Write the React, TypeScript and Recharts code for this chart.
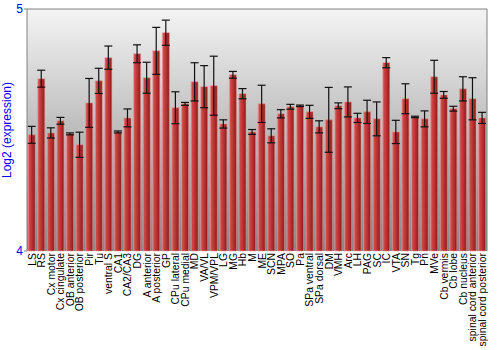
import React from 'react';
import {
  BarChart,
  Bar,
  XAxis,
  YAxis,
  ErrorBar,
  CartesianGrid,
  ReferenceLine,
} from 'recharts';

const regions = [
  'LS', 'RS', 'Cx motor', 'Cx cingulate', 'OB anterior', 'OB posterior', 'Pir', 'Tu',
  'ventral S', 'CA1', 'CA2/CA3', 'DG', 'A anterior', 'A posterior', 'GP', 'CPu lateral',
  'CPu medial', 'MD', 'VA/VL', 'VPM/VPL', 'LG', 'MG', 'Hb', 'M', 'ME', 'SCN', 'MPA', 'SO',
  'Pa', 'SPa ventral', 'SPa dorsal', 'DM', 'VMH', 'Arc', 'LH', 'PAG', 'SC', 'IC', 'VTA',
  'SN', 'Tg', 'Pn', 'MVe', 'Cb vermis', 'Cb lobe', 'Cb nucleus', 'spinal cord anterior',
  'spinal cord posterior',
];

const expression = [
  4.48, 4.712, 4.488, 4.538, 4.484, 4.439, 4.612, 4.703,
  4.799, 4.492, 4.55, 4.815, 4.716, 4.827, 4.902, 4.592,
  4.608, 4.699, 4.679, 4.683, 4.525, 4.728, 4.65, 4.492, 4.608, 4.476, 4.567, 4.596,
  4.6, 4.575, 4.513, 4.542, 4.6, 4.616, 4.55, 4.575, 4.546, 4.778, 4.492,
  4.629, 4.554, 4.546, 4.72, 4.645, 4.588, 4.67, 4.629,
  4.55,
];

const stdErr = [
  0.035, 0.035, 0.021, 0.014, 0.004, 0.052, 0.101, 0.052,
  0.048, 0.004, 0.037, 0.037, 0.064, 0.097, 0.052, 0.066,
  0.006, 0.079, 0.087, 0.122, 0.017, 0.014, 0.021, 0.01, 0.077, 0.029, 0.017, 0.01,
  0.003, 0.027, 0.025, 0.134, 0.012, 0.062, 0.019, 0.048, 0.07, 0.021, 0.048,
  0.062, 0.003, 0.033, 0.068, 0.014, 0.01, 0.05, 0.087,
  0.023,
];

const yTicks = [4, 5];

const data = regions.map((name, i) => ({
  name,
  value: expression[i],
  err: stdErr[i],
}));

const font = '"Liberation Sans", Arial, sans-serif';
const blue = '#0000ff';

const RegionTick = (props: any) => {
  const { x, payload } = props;
  return (
    <text
      transform={`translate(${x},253) rotate(-90)`}
      textAnchor="end"
      dy="0.36em"
      fontSize={10.4}
      fontFamily={font}
      fill="#000"
    >
      {payload.value}
    </text>
  );
};

export default function App() {
  return (
    <div style={{ width: 500, height: 350 }}>
      <style>{'body{margin:0}'}</style>
      <BarChart
        width={500}
        height={350}
        data={data}
        margin={{ top: 9, right: 0, bottom: 0, left: 0 }}
        barCategoryGap="12%"
      >
        <defs>
          <linearGradient id="bg" x1="0" y1="0" x2="0" y2="1">
            <stop offset="0%" stopColor="#f4f4f4" />
            <stop offset="100%" stopColor="#858585" />
          </linearGradient>
          <linearGradient id="barFill" x1="0" y1="0" x2="1" y2="0">
            <stop offset="0%" stopColor="#dc6c6c" />
            <stop offset="20%" stopColor="#cc4747" />
            <stop offset="55%" stopColor="#b93232" />
            <stop offset="85%" stopColor="#9a2222" />
            <stop offset="100%" stopColor="#761414" />
          </linearGradient>
        </defs>
        <CartesianGrid horizontal={false} vertical={false} fill="url(#bg)" fillOpacity={1} />
        <XAxis
          dataKey="name"
          interval={0}
          height={99}
          tickLine={false}
          axisLine={false}
          tick={<RegionTick />}
        />
        <YAxis
          yAxisId="left"
          domain={[4, 5]}
          ticks={yTicks}
          width={27}
          tickSize={3}
          tickMargin={1}
          stroke="#808080"
          tick={{ fill: blue, fontSize: 12, fontFamily: font }}
          label={{
            value: 'Log2 (expression)',
            angle: -90,
            position: 'insideLeft',
            dx: 2,
            fill: blue,
            fontSize: 12,
            fontFamily: font,
            style: { textAnchor: 'middle' },
          }}
        />
        <YAxis
          yAxisId="right"
          orientation="right"
          domain={[4, 5]}
          ticks={yTicks}
          width={13}
          tickSize={3}
          tickMargin={1}
          stroke="#808080"
          tick={{ fill: blue, fontSize: 12, fontFamily: font }}
        />
        <ReferenceLine yAxisId="left" y={5} stroke="#808080" />
        <Bar
          yAxisId="left"
          dataKey="value"
          fill="url(#barFill)"
          stroke="rgba(240,150,150,0.55)"
          strokeWidth={1}
          isAnimationActive={false}
        >
          <ErrorBar
            dataKey="err"
            width={4}
            stroke="#111"
            strokeWidth={1.2}
            direction="y"
            isAnimationActive={false}
          />
        </Bar>
      </BarChart>
    </div>
  );
}
